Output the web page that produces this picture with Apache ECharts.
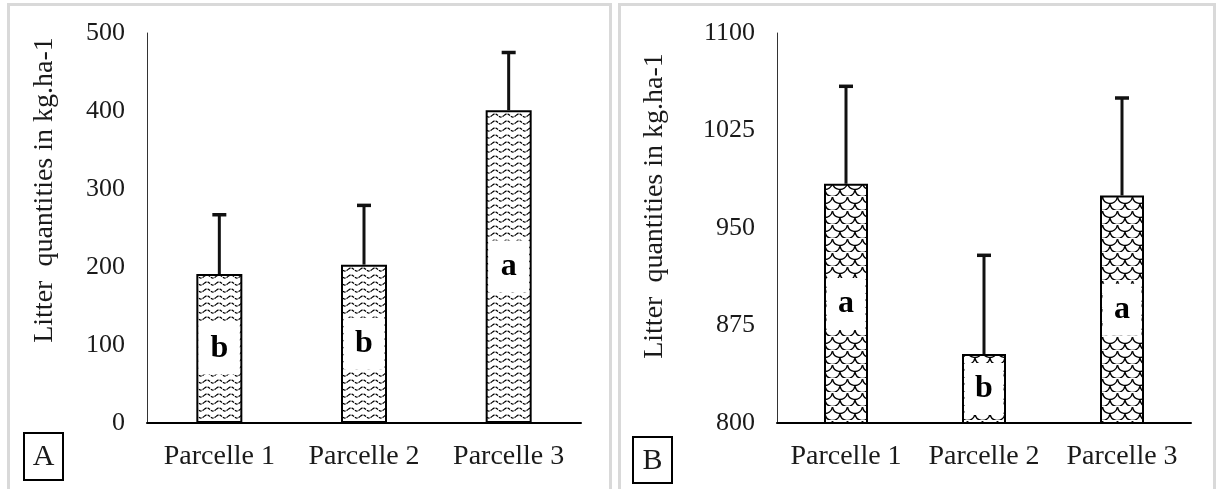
<!DOCTYPE html>
<html>
<head>
<meta charset="utf-8">
<script src="https://cdn.jsdelivr.net/npm/echarts@6/dist/echarts.min.js"></script>
<style>
html, body { margin: 0; padding: 0; background: #fff; }
#main { width: 1219px; height: 489px; }
</style>
</head>
<body>
<div id="main"></div>
<script>
var categories = ['Parcelle 1', 'Parcelle 2', 'Parcelle 3'];

// panel A
var meanA = [191, 203, 401];
var upperA = [267, 279, 475];
var letterA = ['b', 'b', 'a'];
var ticksA = [0, 100, 200, 300, 400, 500];

// panel B
var meanB = [984, 853, 975];
var upperB = [1059, 929, 1050];
var letterB = ['a', 'b', 'a'];
var ticksB = [800, 875, 950, 1025, 1100];

var serif = 'Liberation Serif';
var ink = '#1a1a1a';

// fill patterns of the bars
function wavePattern() {
    var c = document.createElement('canvas');
    c.width = 12; c.height = 7;
    var ctx = c.getContext('2d');
    ctx.fillStyle = '#fff';
    ctx.fillRect(0, 0, 12, 7);
    ctx.strokeStyle = '#000';
    ctx.lineWidth = 1.3;
    ctx.setLineDash([3, 1]);
    ctx.beginPath();
    for (var x = 0; x <= 12; x++) {
        var y = 3.5 - 1.6 * Math.sin(x / 12 * Math.PI * 2);
        if (x === 0) ctx.moveTo(x, y); else ctx.lineTo(x, y);
    }
    ctx.stroke();
    return c;
}

function scalePattern() {
    var w = 15, h = 14, r = 7.5;
    var c = document.createElement('canvas');
    c.width = w; c.height = h;
    var ctx = c.getContext('2d');
    ctx.fillStyle = '#fff';
    ctx.fillRect(0, 0, w, h);
    ctx.strokeStyle = '#000';
    ctx.lineWidth = 1.4;
    [[0, 0], [w, 0], [r, h / 2], [0, h], [w, h]].forEach(function (p) {
        ctx.beginPath();
        ctx.arc(p[0], p[1], r, 0.15, Math.PI - 0.15);
        ctx.stroke();
    });
    return c;
}

function barSeries(idx, means, letters, pattern, width) {
    return {
        type: 'bar',
        xAxisIndex: idx,
        yAxisIndex: idx,
        data: means,
        barWidth: width,
        itemStyle: {
            color: { image: pattern, repeat: 'repeat' },
            borderColor: '#000',
            borderWidth: 2
        },
        label: {
            show: true,
            position: 'inside',
            formatter: function (p) { return letters[p.dataIndex]; },
            fontFamily: serif,
            fontWeight: 'bold',
            fontSize: 32,
            color: '#000',
            backgroundColor: '#fff',
            width: width - 5,
            height: 52,
            lineHeight: 52,
            align: 'center'
        },
        z: 2
    };
}

function errSeries(idx, means, uppers) {
    return {
        type: 'custom',
        xAxisIndex: idx,
        yAxisIndex: idx,
        data: means.map(function (m, i) { return [i, m, uppers[i]]; }),
        encode: { x: 0, y: [1, 2] },
        renderItem: function (params, api) {
            var p0 = api.coord([api.value(0), api.value(1)]);
            var p1 = api.coord([api.value(0), api.value(2)]);
            return {
                type: 'group',
                children: [
                    { type: 'line', shape: { x1: p0[0], y1: p0[1], x2: p1[0], y2: p1[1] }, style: { stroke: '#111', lineWidth: 3 } },
                    { type: 'line', shape: { x1: p1[0] - 7, y1: p1[1], x2: p1[0] + 7, y2: p1[1] }, style: { stroke: '#111', lineWidth: 3.5 } }
                ]
            };
        },
        z: 3
    };
}

function xAxis(idx) {
    return {
        gridIndex: idx,
        type: 'category',
        data: categories,
        axisLine: { lineStyle: { color: '#000', width: 2 } },
        axisTick: { show: false },
        axisLabel: { interval: 0, fontFamily: serif, fontSize: 28, color: ink, margin: 20 }
    };
}

function yAxis(idx, min, max, ticks) {
    return {
        gridIndex: idx,
        type: 'value',
        min: min,
        max: max,
        axisLine: { show: true, lineStyle: { color: '#333', width: 1 } },
        axisTick: { show: false },
        splitLine: { show: false },
        axisLabel: {
            customValues: ticks,
            formatter: function (v) { return String(v); },
            fontFamily: serif, fontSize: 26, color: ink, margin: 22
        }
    };
}

function yTitle(x, y) {
    return {
        type: 'text',
        x: x, y: y,
        rotation: Math.PI / 2,
        style: {
            text: 'Litter  quantities in kg.ha-1',
            fontFamily: serif, fontSize: 28, fill: ink,
            align: 'center', verticalAlign: 'middle'
        }
    };
}

function letterBox(x, y, w, h, t) {
    return [
        { type: 'rect', shape: { x: x, y: y, width: w, height: h }, style: { fill: '#fff', stroke: '#000', lineWidth: 2 } },
        { type: 'text', x: x + w / 2, y: y + h / 2 + 1, style: { text: t, fontFamily: serif, fontSize: 30, fill: ink, align: 'center', verticalAlign: 'middle' } }
    ];
}

var chart = echarts.init(document.getElementById('main'));

var option = {
    animation: false,
    backgroundColor: '#fff',
    grid: [
        { left: 147, top: 33, width: 434, height: 390 },
        { left: 777, top: 33, width: 414, height: 390 }
    ],
    xAxis: [xAxis(0), xAxis(1)],
    yAxis: [yAxis(0, 0, 500, ticksA), yAxis(1, 800, 1100, ticksB)],
    series: [
        barSeries(0, meanA, letterA, wavePattern(), 46),
        errSeries(0, meanA, upperA),
        barSeries(1, meanB, letterB, scalePattern(), 44),
        errSeries(1, meanB, upperB)
    ],
    graphic: [
        { type: 'rect', shape: { x: 8.5, y: 4.5, width: 602, height: 520 }, style: { fill: 'none', stroke: '#d9d9d9', lineWidth: 3 } },
        { type: 'rect', shape: { x: 619.5, y: 4.5, width: 595, height: 520 }, style: { fill: 'none', stroke: '#d9d9d9', lineWidth: 3 } },
        yTitle(45, 190),
        yTitle(655, 206)
    ].concat(letterBox(24, 433, 39, 47, 'A'), letterBox(633, 437, 39, 46, 'B'))
};

chart.setOption(option);
</script>
</body>
</html>
